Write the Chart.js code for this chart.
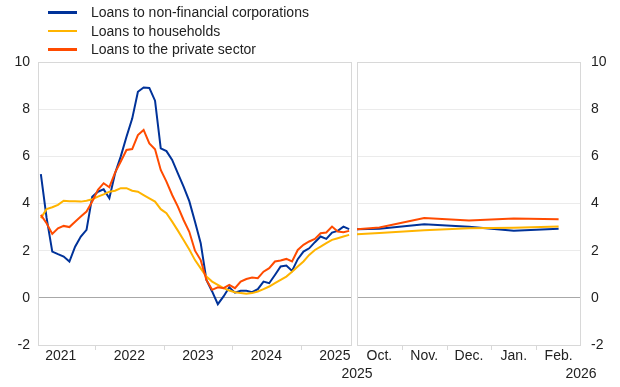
<!DOCTYPE html>
<html>
<head>
<meta charset="utf-8">
<script src="https://cdn.jsdelivr.net/npm/chart.js@4.4.1/dist/chart.umd.min.js"></script>
<style>
  body { margin: 0; background: #fff; font-family: "Liberation Sans", Arial, sans-serif; }
  #wrap { position: relative; width: 620px; height: 387px; overflow: hidden; }
  canvas { position: absolute; top: 0; }
  #left { left: 0; }
  #right { left: 336px; }
  .legend { position: absolute; left: 48px; top: 3px; font-size: 14px; color: #222; }
  .item { height: 18.5px; display: flex; align-items: center; white-space: nowrap; }
  .swatch { width: 29px; height: 2.5px; margin-right: 14px; }
</style>
</head>
<body>
<div id="wrap">
  <canvas id="left" width="356" height="387"></canvas>
  <canvas id="right" width="284" height="387"></canvas>
  <div class="legend" id="legend"></div>
</div>
<script>
// left panel: monthly, March 2021 - September 2025
const yearLabels = ['2021', '2022', '2023', '2024', '2025'];
const nfc = [
  5.25, 3.4, 1.96, 1.85, 1.75, 1.54, 2.17, 2.6, 2.88, 4.29,
  4.5, 4.6, 4.22, 5.28, 6.0, 6.83, 7.6, 8.74, 8.92, 8.9, 8.36, 6.34,
  6.22, 5.85, 5.28, 4.72, 4.1, 3.23, 2.32, 0.76, 0.27, -0.27, 0.06, 0.45,
  0.22, 0.3, 0.3, 0.24, 0.37, 0.69, 0.62, 0.97, 1.33, 1.37, 1.14, 1.64,
  1.96, 2.1, 2.36, 2.6, 2.5, 2.77, 2.84, 3.02, 2.91
];
const households = [
  3.38, 3.76, 3.84, 3.94, 4.12, 4.1, 4.1, 4.08, 4.12, 4.18,
  4.29, 4.39, 4.5, 4.54, 4.65, 4.65, 4.54, 4.5, 4.36, 4.22, 4.08, 3.76,
  3.59, 3.23, 2.85, 2.45, 2.05, 1.6, 1.25, 0.9, 0.69, 0.55, 0.41, 0.31,
  0.24, 0.2, 0.17, 0.2, 0.27, 0.37, 0.48, 0.62, 0.76, 0.9, 1.11, 1.33,
  1.54, 1.82, 2.03, 2.17, 2.32, 2.46, 2.53, 2.6, 2.67
];
const privateSector = [
  3.52, 3.16, 2.71, 2.95, 3.05, 3.0, 3.23, 3.45, 3.66, 4.08,
  4.58, 4.86, 4.69, 5.31, 5.78, 6.27, 6.31, 6.9, 7.12, 6.55, 6.3, 5.42,
  4.93, 4.36, 3.87, 3.3, 2.8, 2.0, 1.6, 0.76, 0.34, 0.45, 0.41, 0.55,
  0.41, 0.69, 0.8, 0.86, 0.83, 1.11, 1.26, 1.54, 1.58, 1.65, 1.54, 2.03,
  2.25, 2.39, 2.5, 2.74, 2.77, 3.02, 2.81, 2.78, 2.84
];

// right panel: first value at start of October, then monthly
const rightMonths = ['Oct.', 'Nov.', 'Dec.', 'Jan.', 'Feb.'];
const rightYears = ['2025', '2026'];
const nfcRight = [2.91, 2.93, 3.12, 3.01, 2.84, 2.93];
const householdsRight = [2.70, 2.75, 2.87, 2.95, 2.97, 3.02];
const privateSectorRight = [2.91, 2.98, 3.38, 3.28, 3.36, 3.33];

const seriesNames = ['Loans to non-financial corporations', 'Loans to households', 'Loans to the private sector'];
const colors = ['#003299', '#ffb400', '#ff4b00'];

const FONT = { family: '"Liberation Sans", Arial, sans-serif', size: 14 };
const TEXT = '#222';
const GRID = '#ebebeb';
const ZERO = '#a8a8a8';
const FRAME = '#d8d8d8';

// legend
const legend = document.getElementById('legend');
seriesNames.forEach((name, i) => {
  const row = document.createElement('div');
  row.className = 'item';
  row.innerHTML = '<span class="swatch" style="background:' + colors[i] + '"></span><span>' + name + '</span>';
  legend.appendChild(row);
});

const framePlugin = {
  id: 'frame',
  beforeDatasetsDraw(chart, args, opts) {
    const a = chart.chartArea, c = chart.ctx;
    c.save();
    c.strokeStyle = FRAME;
    c.lineWidth = 1;
    c.strokeRect(Math.round(a.left) + 0.5, Math.round(a.top) + 0.5,
                 Math.round(a.right - a.left) - 1, Math.round(a.bottom - a.top));
    (opts.marks || []).forEach(v => {
      const x = Math.round(chart.scales.x.getPixelForValue(v)) + 0.5;
      c.beginPath();
      c.moveTo(x, a.bottom);
      c.lineTo(x, a.bottom + 5);
      c.stroke();
    });
    c.restore();
  }
};

function line(label, data, color, order) {
  return { label, data, borderColor: color, backgroundColor: color, borderWidth: 2,
           pointRadius: 0, tension: 0, order };
}

function yAxis(position, width, padding) {
  return {
    position, min: -2, max: 10,
    ticks: { stepSize: 2, color: TEXT, font: FONT, padding },
    grid: { drawTicks: false, color: c => c.tick.value === 0 ? ZERO : GRID },
    border: { display: false },
    afterFit: s => { s.width = width; }
  };
}

function xAxis(min, max, values, labels, padding, height) {
  return {
    type: 'linear', position: 'bottom', min, max,
    afterBuildTicks: s => { s.ticks = values.map(v => ({ value: v })); },
    ticks: { color: TEXT, font: FONT, padding, maxRotation: 0, autoSkip: false,
             callback: (v, i) => labels[i] },
    grid: { display: false, drawTicks: false },
    border: { display: false },
    afterFit: s => { s.height = height; }
  };
}

// months since January 2021; each month plotted at its middle
const leftData = arr => arr.map((v, i) => ({ x: i + 2.5, y: v }));
const rightData = arr => arr.map((v, i) => ({ x: i === 0 ? 0 : i - 0.5, y: v }));

new Chart(document.getElementById('left'), {
  type: 'line',
  data: { datasets: [
    line(seriesNames[0], leftData(nfc), colors[0], 2),
    line(seriesNames[1], leftData(households), colors[1], 1),
    line(seriesNames[2], leftData(privateSector), colors[2], 0)
  ] },
  options: {
    responsive: false, animation: false, devicePixelRatio: 1,
    layout: { padding: { top: 62, right: 4, left: 0, bottom: 0 } },
    plugins: { legend: { display: false }, tooltip: { enabled: false }, frame: { marks: [12, 24, 36, 48] } },
    scales: {
      x: xAxis(2, 57, yearLabels.map((_, i) => 6 + 12 * i), yearLabels, 3, 42),
      y: yAxis('left', 38, 8)
    }
  },
  plugins: [framePlugin]
});

new Chart(document.getElementById('right'), {
  type: 'line',
  data: { datasets: [
    line(seriesNames[0], rightData(nfcRight), colors[0], 2),
    line(seriesNames[1], rightData(householdsRight), colors[1], 1),
    line(seriesNames[2], rightData(privateSectorRight), colors[2], 0)
  ] },
  options: {
    responsive: false, animation: false, devicePixelRatio: 1,
    layout: { padding: { top: 62, right: 0, left: 21, bottom: 0 } },
    plugins: { legend: { display: false }, tooltip: { enabled: false }, frame: { marks: [1, 2, 3, 4] } },
    scales: {
      x: xAxis(0, 5, rightMonths.map((_, i) => i + 0.5), rightMonths, 3, 21),
      x2: xAxis(0, 5, [0, 5], rightYears, 0, 21),
      y: yAxis('right', 39, 10)
    }
  },
  plugins: [framePlugin]
});
</script>
</body>
</html>
